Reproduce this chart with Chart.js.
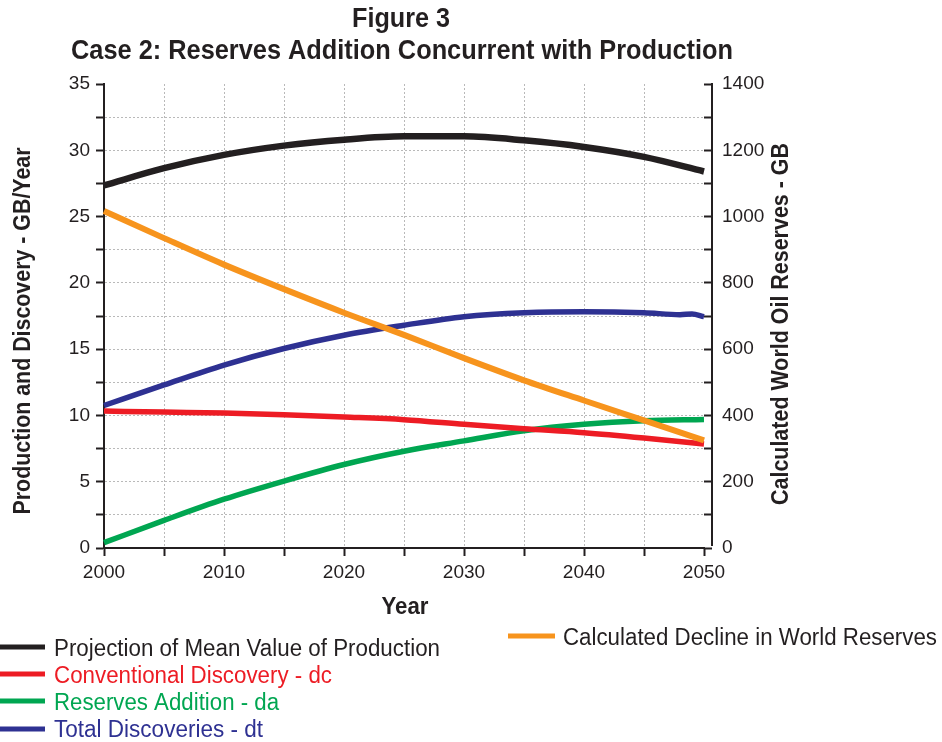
<!DOCTYPE html>
<html>
<head>
<meta charset="utf-8">
<script src="https://cdn.jsdelivr.net/npm/chart.js@4.4.1/dist/chart.umd.min.js"></script>
<style>
  html, body { margin: 0; padding: 0; background: #ffffff; }
  #wrap { width: 942px; height: 742px; }
</style>
</head>
<body>
<div id="wrap"><canvas id="c" width="942" height="742"></canvas></div>
<script>
// Years on the x axis
const years = [2000, 2005, 2010, 2015, 2020, 2025, 2030, 2035, 2040, 2045, 2050];
const totalYears = [2000, 2005, 2010, 2015, 2020, 2025, 2030, 2035, 2040, 2045, 2048, 2049, 2050];

// Left axis series, GB/Year
const production = [27.35, 28.65, 29.65, 30.35, 30.8, 31.05, 31.05, 30.75, 30.25, 29.5, 28.4];
const conventionalDiscovery = [10.33, 10.25, 10.18, 10.05, 9.88, 9.68, 9.33, 9.0, 8.7, 8.3, 7.85];
const reservesAddition = [0.4, 2.08, 3.68, 5.05, 6.3, 7.3, 8.08, 8.85, 9.33, 9.6, 9.7];
const totalDiscoveries = [10.75, 12.3, 13.8, 15.05, 16.05, 16.8, 17.45, 17.75, 17.83, 17.75, 17.6, 17.65, 17.45];

// Right axis series, GB
const worldReserves = [1017, 935, 855, 781, 710, 643, 573, 506, 445, 385, 325];

// Labels
const seriesLabels = [
  'Projection of Mean Value of Production',
  'Conventional Discovery - dc',
  'Reserves Addition - da',
  'Total Discoveries - dt',
  'Calculated Decline in World Reserves'
];
const titleLines = ['Figure 3', 'Case 2: Reserves Addition Concurrent with Production'];
const xTitle = 'Year';
const yTitle = 'Production and Discovery - GB/Year';
const y1Title = 'Calculated World Oil Reserves - GB';

const INK = '#231f20';
const COLORS = ['#231f20', '#ed1c24', '#00a651', '#2e3192', '#f7941d'];
const FONT = '"Liberation Sans", Arial, sans-serif';

const pts = (xs, ys) => xs.map((x, i) => ({ x: x, y: ys[i] }));

function fitText(ctx, text, x, y, width, font, color, align, rotate) {
  ctx.save();
  ctx.font = font;
  ctx.fillStyle = color;
  ctx.textBaseline = 'alphabetic';
  ctx.textAlign = align;
  const w = ctx.measureText(text).width;
  ctx.translate(x, y);
  if (rotate) ctx.rotate(rotate);
  ctx.scale(width / w, 1);
  ctx.fillText(text, 0, 0);
  ctx.restore();
}

const decorations = {
  id: 'decorations',
  afterDraw(chart) {
    const ctx = chart.ctx;
    const area = chart.chartArea;
    const y1 = chart.scales.y1;

    // right axis line, set off from the plot edge
    ctx.save();
    ctx.strokeStyle = INK;
    ctx.lineWidth = 2;
    ctx.beginPath();
    ctx.moveTo(area.right + 8, y1.getPixelForValue(1400) - 1);
    ctx.lineTo(area.right + 8, y1.getPixelForValue(0) - 2);
    ctx.stroke();
    ctx.restore();

    // titles
    fitText(ctx, titleLines[0], 401, 27, 98, 'bold 28px ' + FONT, INK, 'center');
    fitText(ctx, titleLines[1], 402, 59, 662, 'bold 28px ' + FONT, INK, 'center');

    // axis titles
    fitText(ctx, xTitle, 405, 614, 47, 'bold 23px ' + FONT, INK, 'center');
    fitText(ctx, yTitle, 30, 331, 367, 'bold 23px ' + FONT, INK, 'center', -Math.PI / 2);
    fitText(ctx, y1Title, 788, 324, 362, 'bold 23px ' + FONT, INK, 'center', -Math.PI / 2);

    // legend
    const ds = chart.data.datasets;
    const rows = [
      { i: 0, lx: 0, lw: 45, ly: 647, tx: 54, ty: 656, tw: 386, tc: INK },
      { i: 1, lx: 0, lw: 45, ly: 674, tx: 54, ty: 683, tw: 278, tc: COLORS[1] },
      { i: 2, lx: 0, lw: 45, ly: 701, tx: 54, ty: 710, tw: 225, tc: COLORS[2] },
      { i: 3, lx: 0, lw: 45, ly: 729, tx: 54, ty: 737, tw: 209, tc: COLORS[3] },
      { i: 4, lx: 508, lw: 47, ly: 636, tx: 563, ty: 645, tw: 374, tc: INK }
    ];
    rows.forEach(r => {
      ctx.save();
      ctx.fillStyle = ds[r.i].borderColor;
      ctx.fillRect(r.lx, r.ly - 2.5, r.lw, 5);
      ctx.restore();
      fitText(ctx, ds[r.i].label, r.tx, r.ty, r.tw, '23px ' + FONT, r.tc, 'left');
    });
  }
};

const gridColor = (edgeValue) => (c) => (c.tick && c.tick.value === edgeValue ? 'rgba(0,0,0,0)' : '#b9b9b9');

new Chart(document.getElementById('c'), {
  type: 'line',
  data: {
    datasets: [
      { label: seriesLabels[0], data: pts(years, production), borderColor: COLORS[0], borderWidth: 6.5, yAxisID: 'y', order: 2 },
      { label: seriesLabels[1], data: pts(years, conventionalDiscovery), borderColor: COLORS[1], borderWidth: 5.5, yAxisID: 'y', order: 3 },
      { label: seriesLabels[2], data: pts(years, reservesAddition), borderColor: COLORS[2], borderWidth: 5.5, yAxisID: 'y', order: 4 },
      { label: seriesLabels[3], data: pts(totalYears, totalDiscoveries), borderColor: COLORS[3], borderWidth: 5.5, yAxisID: 'y', order: 5 },
      { label: seriesLabels[4], data: pts(years, worldReserves), borderColor: COLORS[4], borderWidth: 6, yAxisID: 'y1', order: 1 }
    ]
  },
  options: {
    responsive: false,
    animation: false,
    devicePixelRatio: 1,
    layout: { padding: { top: 84, left: 0, right: 0, bottom: 0 } },
    elements: {
      point: { radius: 0, hoverRadius: 0 },
      line: { cubicInterpolationMode: 'monotone', fill: false, borderCapStyle: 'butt' }
    },
    datasets: { line: { clip: false } },
    plugins: { legend: { display: false }, title: { display: false }, tooltip: { enabled: false } },
    scales: {
      x: {
        type: 'linear',
        min: 2000, max: 2050,
        afterFit: s => { s.height = 742 - 548 - 84 + 84 - 0 - 0; s.height = 194; },
        ticks: {
          stepSize: 5, padding: 5, color: INK,
          font: { family: FONT, size: 19 },
          maxRotation: 0, autoSkip: false,
          callback: v => (v % 10 === 0 ? String(v) : '')
        },
        grid: { color: gridColor(2050), lineWidth: 1, drawTicks: true, tickLength: 8, tickColor: INK, tickWidth: 2 },
        border: { display: true, color: INK, width: 2, dash: [2, 2] }
      },
      y: {
        position: 'left',
        min: 0, max: 35,
        afterFit: s => { s.width = 104; },
        ticks: {
          stepSize: 2.5, padding: 6, color: INK,
          font: { family: FONT, size: 19 },
          autoSkip: false,
          callback: v => (v % 5 === 0 ? String(v) : '')
        },
        grid: { color: gridColor(35), lineWidth: 1, drawTicks: true, tickLength: 8, tickColor: INK, tickWidth: 2 },
        border: { display: true, color: INK, width: 2, dash: [2, 2] }
      },
      y1: {
        position: 'right',
        min: 0, max: 1400,
        afterFit: s => { s.width = 942 - 704; },
        ticks: {
          stepSize: 100, padding: 10, color: INK,
          font: { family: FONT, size: 19 },
          autoSkip: false,
          callback: v => (v % 200 === 0 ? String(v) : '')
        },
        grid: { drawOnChartArea: false, drawTicks: true, tickLength: 8, tickColor: INK, tickWidth: 2 },
        border: { display: false }
      }
    }
  },
  plugins: [decorations]
});
</script>
</body>
</html>
